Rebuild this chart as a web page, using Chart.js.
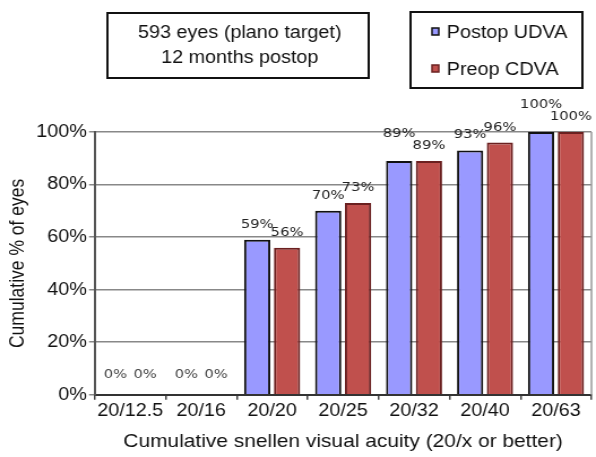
<!DOCTYPE html>
<html>
<head>
<meta charset="utf-8">
<script src="https://cdn.jsdelivr.net/npm/chart.js@4/dist/chart.umd.min.js"></script>
<style>
	html, body { margin: 0; padding: 0; background: #fff; overflow: hidden; }
	/* the source figure is stretched sideways, so draw narrower and widen */
	#wrap { width: 527px; height: 457px; position: relative; transform: scaleX(1.1309); transform-origin: 0 0; }
</style>
</head>
<body>
<div id="wrap"><canvas id="chart"></canvas></div>
<script>
const categories = ['20/12.5', '20/16', '20/20', '20/25', '20/32', '20/40', '20/63'];
const postopUDVA = [0, 0, 59, 70, 89, 93, 100];
const preopCDVA = [0, 0, 56, 73, 89, 96, 100];
const yTicks = [0, 20, 40, 60, 80, 100];
const titleLines = ['593 eyes (plano target)', '12 months postop'];

// boxed note, boxed legend, value labels and the right frame line
const extras = {
	id: 'extras',
	afterDraw(chart) {
		const ctx = chart.ctx;
		const area = chart.chartArea;
		const sets = chart.data.datasets;
		ctx.save();

		ctx.strokeStyle = '#999';
		ctx.lineWidth = 1.5;
		ctx.beginPath();
		ctx.moveTo(area.right, area.top);
		ctx.lineTo(area.right, area.bottom);
		ctx.stroke();

		sets.forEach((ds, di) => {
			const meta = chart.getDatasetMeta(di);
			meta.data.forEach((bar, i) => {
				const v = ds.data[i];
				ctx.textAlign = 'center';
				ctx.textBaseline = 'alphabetic';
				ctx.font = '13px "DejaVu Sans"';
				if (v === 0) {
					ctx.fillStyle = '#444';
					ctx.fillText(v + '%', bar.x, bar.y - 17);
				} else {
					ctx.fillStyle = '#222';
					// lift the first label when both bars are the same height so they don't collide
					let dy = 12;
					if (di === 0 && v === sets[1].data[i]) dy = 24;
					ctx.fillText(v + '%', bar.x, bar.y - dy);
				}
			});
		});

		// note box
		ctx.strokeStyle = '#111';
		ctx.lineWidth = 2;
		ctx.strokeRect(95, 13, 231, 65);
		ctx.fillStyle = '#111';
		ctx.font = '17.5px "Liberation Sans"';
		ctx.textAlign = 'center';
		ctx.fillText(titleLines[0], 212, 38);
		ctx.fillText(titleLines[1], 212, 63);

		// legend box
		ctx.strokeRect(363, 12, 152, 76);
		ctx.textAlign = 'left';
		sets.forEach((ds, di) => {
			const y = 32 + di * 37;
			ctx.fillStyle = ds.backgroundColor;
			ctx.fillRect(382, y - 4, 6, 7);
			ctx.strokeStyle = ds.borderColor;
			ctx.lineWidth = 1.5;
			ctx.strokeRect(382, y - 4, 6, 7);
			ctx.fillStyle = '#111';
			ctx.fillText(ds.label, 395, y + 6);
		});
		ctx.restore();
	}
};

new Chart(document.getElementById('chart'), {
	type: 'bar',
	data: {
		labels: categories,
		datasets: [
			{ label: 'Postop UDVA', data: postopUDVA, backgroundColor: '#9999ff', borderColor: '#111', borderWidth: 2 },
			{ label: 'Preop CDVA', data: preopCDVA, backgroundColor: '#c0504d', borderColor: '#6b2020', borderWidth: 2 }
		]
	},
	options: {
		responsive: true,
		maintainAspectRatio: false,
		animation: false,
		layout: { padding: { top: 132, right: 4, left: 4, bottom: 4 } },
		plugins: { legend: { display: false }, tooltip: { enabled: false } },
		datasets: { bar: { categoryPercentage: 0.84, barPercentage: 0.88 } },
		scales: {
			x: {
				grid: { display: true, drawOnChartArea: false, drawTicks: true, tickLength: 5, color: '#444', lineWidth: 1.5, offset: true },
				border: { color: '#333', width: 2 },
				ticks: { color: '#111', font: { family: 'Liberation Sans', size: 17.5 }, padding: 1, maxRotation: 0, autoSkip: false },
				title: { display: true, text: 'Cumulative snellen visual acuity (20/x or better)', color: '#111', font: { family: 'Liberation Sans', size: 18.5 }, padding: { top: 8, bottom: 0 } }
			},
			y: {
				min: 0, max: 100,
				afterBuildTicks(axis) { axis.ticks = yTicks.map(v => ({ value: v })); },
				grid: { color: '#888', lineWidth: 1.5, tickLength: 5 },
				border: { color: '#555', width: 2 },
				ticks: { color: '#111', font: { family: 'Liberation Sans', size: 17.5 }, padding: 2, callback: v => v + '%' },
				title: { display: true, text: 'Cumulative % of eyes', color: '#111', font: { family: 'Liberation Sans', size: 17.5 }, padding: { top: 2, bottom: 3 } }
			}
		}
	},
	plugins: [extras]
});
</script>
</body>
</html>
